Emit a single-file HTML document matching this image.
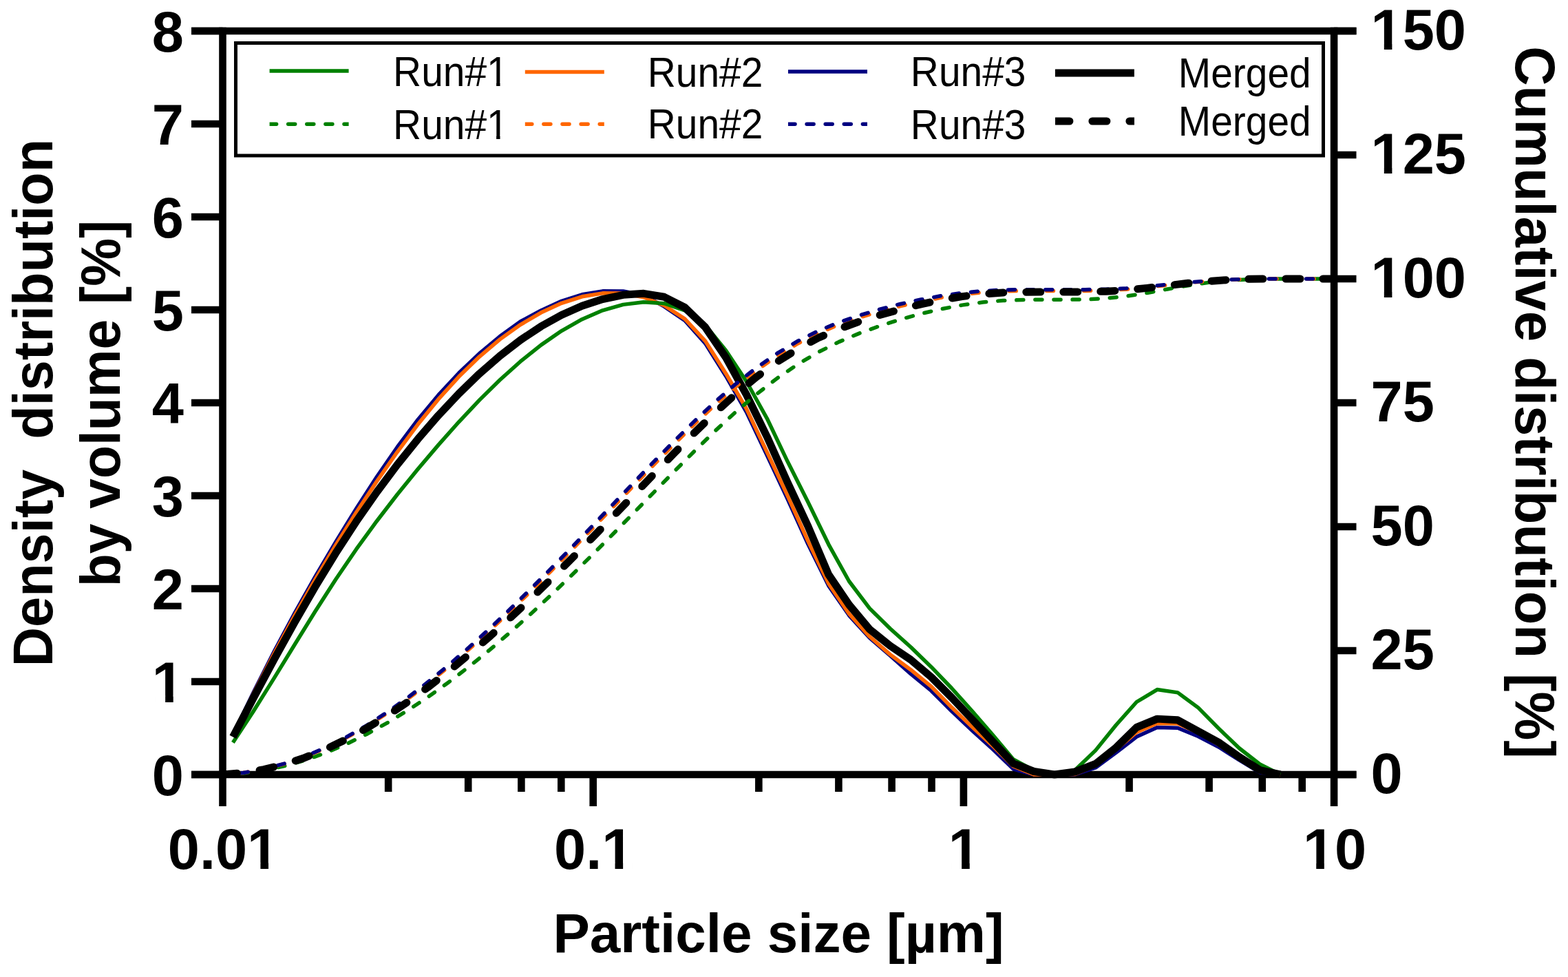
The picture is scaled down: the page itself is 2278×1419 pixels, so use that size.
<!DOCTYPE html><html><head><meta charset="utf-8"><title>Particle size distribution</title>
<style>html,body{margin:0;padding:0;background:#fff;overflow:hidden}svg{display:block}text{font-family:"Liberation Sans",Arial,sans-serif;fill:#000}.b{font-weight:bold}</style></head><body>
<svg width="2278" height="1419" viewBox="0 0 2278 1419">
<rect width="2278" height="1419" fill="#fff"/>
<g stroke="#000" stroke-width="10.6" fill="none"><path d="M278 45H1970.5"/><path d="M278 1125H1970.5"/><path d="M323.5 39.7V1171"/><path d="M1938.1 39.7V1171"/><path d="M278 1125H323.5"/><path d="M278 990H323.5"/><path d="M278 855H323.5"/><path d="M278 720H323.5"/><path d="M278 585H323.5"/><path d="M278 450H323.5"/><path d="M278 315H323.5"/><path d="M278 180H323.5"/><path d="M278 45H323.5"/><path d="M1938.1 1125H1970.5"/><path d="M1938.1 945H1970.5"/><path d="M1938.1 765H1970.5"/><path d="M1938.1 585H1970.5"/><path d="M1938.1 405H1970.5"/><path d="M1938.1 225H1970.5"/><path d="M1938.1 45H1970.5"/><path d="M861.7 1125V1171"/><path d="M1399.9 1125V1171"/><path d="M564.16 1125V1150"/><path d="M680.2 1125V1150"/><path d="M757.39 1125V1150"/><path d="M815.31 1125V1150"/><path d="M1102.36 1125V1150"/><path d="M1218.4 1125V1150"/><path d="M1295.59 1125V1150"/><path d="M1353.51 1125V1150"/><path d="M1640.56 1125V1150"/><path d="M1756.6 1125V1150"/><path d="M1833.79 1125V1150"/><path d="M1891.71 1125V1150"/></g>
<path d="M338.42 1067.42 L368.26 1005.37 L398.1 946.62 L427.93 890.88 L457.77 837.87 L487.61 787.29 L517.45 738.87 L547.29 692.72 L577.12 649.46 L606.96 609.73 L636.8 573.9 L666.64 541.86 L696.48 513.46 L726.31 488.55 L756.15 466.97 L785.99 451.05 L815.83 437.37 L845.67 427.81 L875.5 422.86 L905.34 423.02 L935.18 428.79 L965.02 445.12 L994.86 465.52 L1024.69 498.88 L1054.53 546.24 L1084.37 598.27 L1114.21 661.02 L1144.05 724.57 L1173.88 790.31 L1203.72 850.59 L1233.56 893.8 L1263.4 926.47 L1293.24 952.23 L1323.07 978.68 L1352.91 1003.19 L1382.75 1032.99 L1412.59 1061.24 L1442.43 1088.33 L1472.26 1116.97 L1502.1 1125 L1531.94 1125 L1561.78 1125 L1591.62 1114.99 L1621.45 1093.03 L1651.29 1070.01 L1681.13 1056.43 L1710.97 1057.3 L1740.81 1069.5 L1770.64 1084.97 L1800.48 1103.99 L1830.32 1122 L1860.16 1125" fill="none" stroke="#000080" stroke-width="5.5" stroke-linejoin="round"/>
<path d="M338.42 1068.43 L368.26 1007.48 L398.1 949.52 L427.93 894.38 L457.77 841.93 L487.61 792 L517.45 744.46 L547.29 699.26 L577.12 656.54 L606.96 616.55 L636.8 579.9 L666.64 547.05 L696.48 518.05 L726.31 492.88 L756.15 471.55 L785.99 454.05 L815.83 440.37 L845.67 430.81 L875.5 425.86 L905.34 426.02 L935.18 431.79 L965.02 443.68 L994.86 463.14 L1024.69 495.4 L1054.53 542.47 L1084.37 593.65 L1114.21 656.35 L1144.05 719.69 L1173.88 785.77 L1203.72 847.34 L1233.56 891.35 L1263.4 924.55 L1293.24 950.6 L1323.07 972.7 L1352.91 997.18 L1382.75 1027.57 L1412.59 1056.12 L1442.43 1083.47 L1472.26 1112.97 L1502.1 1125 L1531.94 1125 L1561.78 1124.5 L1591.62 1111.49 L1621.45 1088.54 L1651.29 1063.51 L1681.13 1050.53 L1710.97 1051 L1740.81 1064 L1770.64 1081.47 L1800.48 1101.99 L1830.32 1121 L1860.16 1124.99" fill="none" stroke="#ff6600" stroke-width="5.5" stroke-linejoin="round"/>
<path d="M338.42 1078.42 L368.26 1032.88 L398.1 985.13 L427.93 936.49 L457.77 888.25 L487.61 841.72 L517.45 797.96 L547.29 756.95 L577.12 718.28 L606.96 681.54 L636.8 646.35 L666.64 612.77 L696.48 581.12 L726.31 551.74 L756.15 524.97 L785.99 501.13 L815.83 480.58 L845.67 463.69 L875.5 450.83 L905.34 442.39 L935.18 438.74 L965.02 440.7 L994.86 450.79 L1024.69 472.21 L1054.53 508.94 L1084.37 554.01 L1114.21 607.54 L1144.05 670.1 L1173.88 729.17 L1203.72 790.57 L1233.56 844.26 L1263.4 883.62 L1293.24 912.96 L1323.07 939.75 L1352.91 968.66 L1382.75 999.77 L1412.59 1033 L1442.43 1067.64 L1472.26 1102.96 L1502.1 1119 L1531.94 1124.99 L1561.78 1118.5 L1591.62 1089.88 L1621.45 1052.96 L1651.29 1019.51 L1681.13 1001.54 L1710.97 1005.9 L1740.81 1027.91 L1770.64 1058.14 L1800.48 1086.78 L1830.32 1110.01 L1860.16 1124.98" fill="none" stroke="#008000" stroke-width="5.5" stroke-linejoin="round"/>
<path d="M338.42 1070.35 L368.26 1013.58 L398.1 958.01 L427.93 904.14 L457.77 852.48 L487.61 803.53 L517.45 757.69 L547.29 714.91 L577.12 675.04 L606.96 637.93 L636.8 603.47 L666.64 571.72 L696.48 542.81 L726.31 516.82 L756.15 493.87 L785.99 474.06 L815.83 457.49 L845.67 444.28 L875.5 434.52 L905.34 428.32 L935.18 426.33 L965.02 431.29 L994.86 446.52 L1024.69 475.3 L1054.53 519.16 L1084.37 572.97 L1114.21 634.04 L1144.05 700.57 L1173.88 764.41 L1203.72 834.35 L1233.56 878.36 L1263.4 914.04 L1293.24 937.96 L1323.07 958.12 L1352.91 983.4 L1382.75 1013.24 L1412.59 1045.01 L1442.43 1077.26 L1472.26 1108.96 L1502.1 1120.5 L1531.94 1124.99 L1561.78 1121 L1591.62 1109.49 L1621.45 1085.74 L1651.29 1056.41 L1681.13 1044.13 L1710.97 1045.8 L1740.81 1062 L1770.64 1078.27 L1800.48 1099.49 L1830.32 1118.5 L1860.16 1124.99" fill="none" stroke="#000" stroke-width="11" stroke-linejoin="round"/>
<path d="M323.5 1125 L353.34 1122.93 L383.18 1118.82 L413.01 1112.6 L442.85 1104.2 L472.69 1093.66 L502.53 1081.05 L532.37 1066.49 L562.21 1050.1 L592.04 1031.99 L621.88 1012.25 L651.72 990.94 L681.56 968.13 L711.4 943.92 L741.23 918.39 L771.07 891.68 L800.91 863.9 L830.75 835.21 L860.59 805.77 L890.42 775.75 L920.26 745.36 L950.1 714.8 L979.94 684.34 L1009.77 654.32 L1039.61 625.25 L1069.45 597.82 L1099.29 572.4 L1129.13 549.36 L1158.97 529.11 L1188.8 511.49 L1218.64 496.6 L1248.48 484.1 L1278.32 473.35 L1308.16 463.91 L1337.99 455.66 L1367.83 448.7 L1397.67 443.13 L1427.51 439.03 L1457.35 436.48 L1487.18 435.49 L1517.02 435.23 L1546.86 435.23 L1576.7 434.94 L1606.54 433.37 L1636.37 430.17 L1666.21 425.47 L1696.05 419.97 L1725.89 414.67 L1755.73 410.35 L1785.56 407.37 L1815.4 405.67 L1845.24 405 L1875.08 405 L1904.92 405 L1934.75 405 L1938.1 405" fill="none" stroke="#008000" stroke-width="5.5" stroke-linejoin="round" stroke-linecap="round" stroke-dasharray="10 17.1"/>
<path d="M323.5 1125 L353.34 1122.49 L383.18 1117.27 L413.01 1109.48 L442.85 1099.24 L472.69 1086.67 L502.53 1071.88 L532.37 1054.98 L562.21 1036.08 L592.04 1015.27 L621.88 992.69 L651.72 968.49 L681.56 942.82 L711.4 915.87 L741.23 887.8 L771.07 858.79 L800.91 828.99 L830.75 798.59 L860.59 767.76 L890.42 736.72 L920.26 705.68 L950.1 674.9 L979.94 644.64 L1009.77 615.25 L1039.61 587.29 L1069.45 561.43 L1099.29 537.83 L1129.13 517.02 L1158.97 499.02 L1188.8 483.96 L1218.64 471.63 L1248.48 461.25 L1278.32 452.35 L1308.16 444.61 L1337.99 437.85 L1367.83 432.17 L1397.67 427.84 L1427.51 424.78 L1457.35 422.94 L1487.18 422.41 L1517.02 422.41 L1546.86 422.41 L1576.7 422.38 L1606.54 421.78 L1636.37 420.16 L1666.21 417.43 L1696.05 414.13 L1725.89 410.84 L1755.73 408.13 L1785.56 406.2 L1815.4 405.18 L1845.24 405 L1875.08 405 L1904.92 405 L1934.75 405 L1938.1 405" fill="none" stroke="#ff6600" stroke-width="5.5" stroke-linejoin="round" stroke-linecap="round" stroke-dasharray="10 17.1"/>
<path d="M323.5 1125 L353.34 1122.44 L383.18 1117.12 L413.01 1109.19 L442.85 1098.78 L472.69 1086.01 L502.53 1070.99 L532.37 1053.82 L562.21 1034.6 L592.04 1013.45 L621.88 990.54 L651.72 966.03 L681.56 940.1 L711.4 912.91 L741.23 884.61 L771.07 855.35 L800.91 825.38 L830.75 794.8 L860.59 763.8 L890.42 732.57 L920.26 701.36 L950.1 670.4 L979.94 640.17 L1009.77 610.84 L1039.61 583 L1069.45 557.26 L1099.29 533.84 L1129.13 513.21 L1158.97 495.4 L1188.8 480.52 L1218.64 468.32 L1248.48 458.04 L1278.32 449.21 L1308.16 441.53 L1337.99 435.02 L1367.83 429.6 L1397.67 425.51 L1427.51 422.68 L1457.35 421.04 L1487.18 420.69 L1517.02 420.69 L1546.86 420.69 L1576.7 420.69 L1606.54 420.24 L1636.37 418.82 L1666.21 416.38 L1696.05 413.33 L1725.89 410.32 L1755.73 407.85 L1785.56 406.07 L1815.4 405.13 L1845.24 405 L1875.08 405 L1904.92 405 L1934.75 405 L1938.1 405" fill="none" stroke="#000080" stroke-width="5.5" stroke-linejoin="round" stroke-linecap="round" stroke-dasharray="10 17.1"/>
<path d="M323.5 1125 L353.34 1122.58 L383.18 1117.63 L413.01 1110.23 L442.85 1100.43 L472.69 1088.34 L502.53 1074.08 L532.37 1057.79 L562.21 1039.6 L592.04 1019.64 L621.88 998.04 L651.72 974.91 L681.56 950.36 L711.4 924.54 L741.23 897.56 L771.07 869.57 L800.91 840.7 L830.75 811.09 L860.59 780.9 L890.42 750.27 L920.26 719.37 L950.1 688.38 L979.94 657.61 L1009.77 627.51 L1039.61 598.69 L1069.45 571.82 L1099.29 547.34 L1129.13 525.56 L1158.97 506.73 L1188.8 490.74 L1218.64 477.85 L1248.48 466.91 L1278.32 457.55 L1308.16 449.25 L1337.99 441.85 L1367.83 435.57 L1397.67 430.61 L1427.51 427.07 L1457.35 424.95 L1487.18 424.24 L1517.02 424.04 L1546.86 424.04 L1576.7 423.86 L1606.54 423.17 L1636.37 421.43 L1666.21 418.39 L1696.05 414.8 L1725.89 411.29 L1755.73 408.49 L1785.56 406.42 L1815.4 405.29 L1845.24 405 L1875.08 405 L1904.92 405 L1934.75 405 L1938.1 405" fill="none" stroke="#000" stroke-width="11" stroke-linejoin="round" stroke-linecap="round" stroke-dasharray="21 33"/>
<text class="b" x="267" y="1154.5" font-size="83" text-anchor="end">0</text>
<text class="b" x="267" y="1019.5" font-size="83" text-anchor="end">1</text>
<text class="b" x="267" y="884.5" font-size="83" text-anchor="end">2</text>
<text class="b" x="267" y="749.5" font-size="83" text-anchor="end">3</text>
<text class="b" x="267" y="614.5" font-size="83" text-anchor="end">4</text>
<text class="b" x="267" y="479.5" font-size="83" text-anchor="end">5</text>
<text class="b" x="267" y="344.5" font-size="83" text-anchor="end">6</text>
<text class="b" x="267" y="209.5" font-size="83" text-anchor="end">7</text>
<text class="b" x="267" y="74.5" font-size="83" text-anchor="end">8</text>
<text class="b" x="1991.5" y="1152" font-size="83">0</text>
<text class="b" x="1991.5" y="972" font-size="83">25</text>
<text class="b" x="1991.5" y="792" font-size="83">50</text>
<text class="b" x="1991.5" y="612" font-size="83">75</text>
<text class="b" x="1991.5" y="432" font-size="83">100</text>
<text class="b" x="1991.5" y="252" font-size="83">125</text>
<text class="b" x="1991.5" y="72" font-size="83">150</text>
<text class="b" x="324.5" y="1262" font-size="83" text-anchor="middle">0.01</text>
<text class="b" x="862.7" y="1262" font-size="83" text-anchor="middle">0.1</text>
<text class="b" x="1400.9" y="1262" font-size="83" text-anchor="middle">1</text>
<text class="b" x="1939.1" y="1262" font-size="83" text-anchor="middle">10</text>
<rect x="225.29" y="1010.43" width="14.86" height="10.97" fill="#fff"/>
<rect x="251.74" y="1010.43" width="13.82" height="10.97" fill="#fff"/>
<rect x="1995.96" y="422.93" width="14.86" height="10.97" fill="#fff"/>
<rect x="2022.41" y="422.93" width="13.82" height="10.97" fill="#fff"/>
<rect x="1995.96" y="242.93" width="14.86" height="10.97" fill="#fff"/>
<rect x="2022.41" y="242.93" width="13.82" height="10.97" fill="#fff"/>
<rect x="1995.96" y="62.93" width="14.86" height="10.97" fill="#fff"/>
<rect x="2022.41" y="62.93" width="13.82" height="10.97" fill="#fff"/>
<rect x="363.56" y="1252.93" width="14.86" height="10.97" fill="#fff"/>
<rect x="390.01" y="1252.93" width="13.82" height="10.97" fill="#fff"/>
<rect x="878.68" y="1252.93" width="14.86" height="10.97" fill="#fff"/>
<rect x="905.13" y="1252.93" width="13.82" height="10.97" fill="#fff"/>
<rect x="1382.27" y="1252.93" width="14.86" height="10.97" fill="#fff"/>
<rect x="1408.72" y="1252.93" width="13.82" height="10.97" fill="#fff"/>
<rect x="1897.39" y="1252.93" width="14.86" height="10.97" fill="#fff"/>
<rect x="1923.85" y="1252.93" width="13.82" height="10.97" fill="#fff"/>
<text class="b" x="1131" y="1383" font-size="80" text-anchor="middle">Particle size [µm]</text>
<text class="b" transform="translate(76 585) rotate(-90) scale(0.979 1)" font-size="81" text-anchor="middle" xml:space="preserve">Density  distribution</text>
<text class="b" transform="translate(173.5 586) rotate(-90) scale(0.97 1)" font-size="81" text-anchor="middle">by volume [%]</text>
<text class="b" transform="translate(2202 584.5) rotate(90) scale(0.9827 1)" font-size="81" text-anchor="middle">Cumulative distribution [%]</text>
<rect x="342.5" y="62.5" width="1580" height="163.5" fill="#fff" stroke="#000" stroke-width="5"/>
<defs>
<clipPath id="lc0"><rect x="391.6" y="150" width="115" height="60"/></clipPath>
<clipPath id="lc1"><rect x="762.8" y="150" width="115" height="60"/></clipPath>
<clipPath id="lc2"><rect x="1145" y="150" width="115" height="60"/></clipPath>
<clipPath id="lc3"><rect x="1532.9" y="150" width="115" height="60"/></clipPath>
</defs>
<path d="M391.6 103h115" stroke="#008000" stroke-width="5.5"/>
<path d="M391.6 180.3h115" stroke="#008000" stroke-width="5.5" stroke-dasharray="10 17.1" stroke-linecap="round" clip-path="url(#lc0)"/>
<g transform="translate(738.7 124.7) scale(0.9176 1)"><text font-size="62" text-anchor="end">Run#1</text>
<rect x="-30.24" y="-5.23" width="11.05" height="6.83" fill="#fff"/>
<rect x="-13.26" y="-5.23" width="11.02" height="6.83" fill="#fff"/>
</g>
<g transform="translate(738.7 201.6) scale(0.9176 1)"><text font-size="62" text-anchor="end">Run#1</text>
<rect x="-30.24" y="-5.23" width="11.05" height="6.83" fill="#fff"/>
<rect x="-13.26" y="-5.23" width="11.02" height="6.83" fill="#fff"/>
</g>
<path d="M762.8 104.6h115" stroke="#ff6600" stroke-width="5.5"/>
<path d="M762.8 180.3h115" stroke="#ff6600" stroke-width="5.5" stroke-dasharray="10 17.1" stroke-linecap="round" clip-path="url(#lc1)"/>
<g transform="translate(1108.4 126.2) scale(0.9176 1)"><text font-size="62" text-anchor="end">Run#2</text>
</g>
<g transform="translate(1108.4 201.4) scale(0.9176 1)"><text font-size="62" text-anchor="end">Run#2</text>
</g>
<path d="M1145 104h115" stroke="#000080" stroke-width="5.5"/>
<path d="M1145 180.3h115" stroke="#000080" stroke-width="5.5" stroke-dasharray="10 17.1" stroke-linecap="round" clip-path="url(#lc2)"/>
<g transform="translate(1490.5 125.4) scale(0.9176 1)"><text font-size="62" text-anchor="end">Run#3</text>
</g>
<g transform="translate(1490.5 201.8) scale(0.9176 1)"><text font-size="62" text-anchor="end">Run#3</text>
</g>
<path d="M1532.9 106h115" stroke="#000" stroke-width="11"/>
<path d="M1532.9 176h115" stroke="#000" stroke-width="11" stroke-dasharray="21 33" stroke-linecap="round" clip-path="url(#lc3)"/>
<g transform="translate(1904.7 127.1) scale(0.9176 1)"><text font-size="62" text-anchor="end">Merged</text>
</g>
<g transform="translate(1904.7 196.9) scale(0.9176 1)"><text font-size="62" text-anchor="end">Merged</text>
</g>
</svg></body></html>
